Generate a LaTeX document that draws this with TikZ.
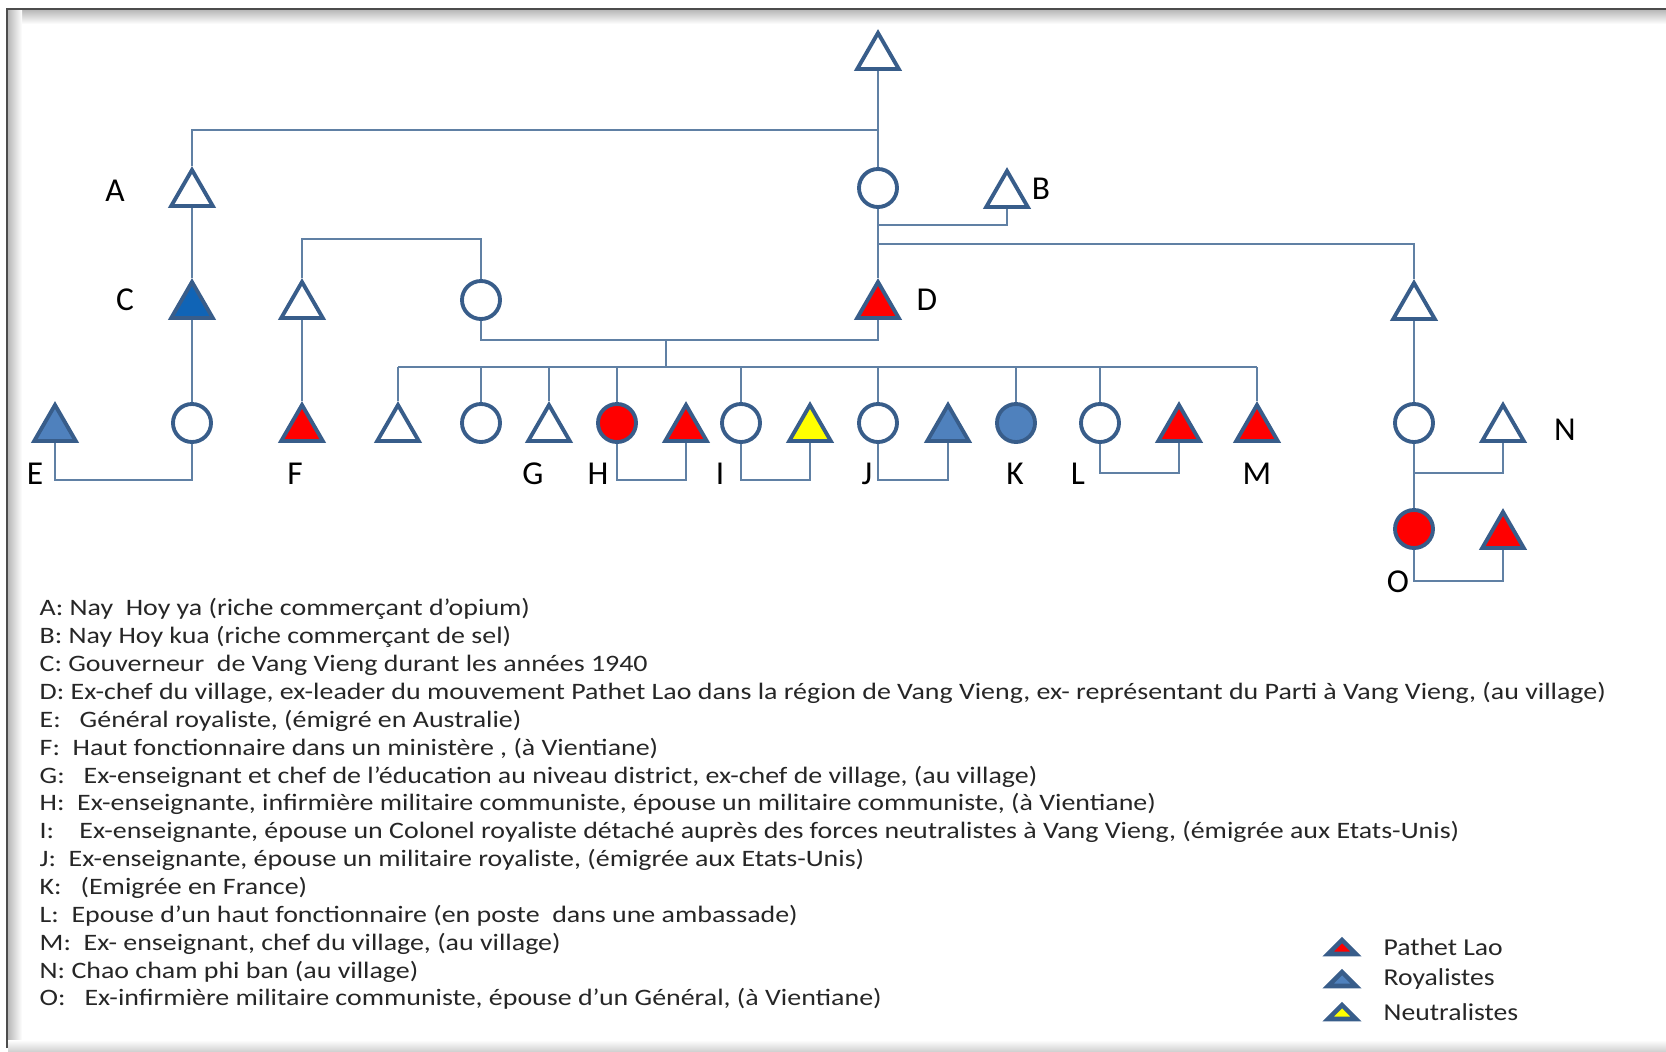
\documentclass[tikz,border=0pt]{standalone}
\usepackage{fontspec}
\setmainfont{Carlito}
\usepackage{tikz}
\usetikzlibrary{shapes.geometric, calc}
\definecolor{kinline}{RGB}{56, 93, 138}
\definecolor{kinlink}{RGB}{96, 128, 164}
\definecolor{plred}{RGB}{255, 0, 0}
\definecolor{royblue}{RGB}{79, 129, 189}
\definecolor{govblue}{RGB}{16, 100, 182}
\definecolor{neuyellow}{RGB}{255, 255, 0}

\begin{document}
\begin{tikzpicture}[x=0.01cm, y=-0.01cm,
    male/.style={regular polygon, regular polygon sides=3, minimum size=0.48cm,
      inner sep=0pt, draw=kinline, line width=1.1pt, fill=white},
    female/.style={circle, minimum size=0.38cm, inner sep=0pt,
      draw=kinline, line width=1.1pt, fill=white},
    link/.style={draw=kinlink, line width=0.6pt},
    tag/.style={font=\fontsize{9.5}{11}\selectfont, inner sep=0pt}]
  \useasboundingbox (0,0) rectangle (1666,1051);
  % Frame with shadow
  \shade[top color=gray!55, bottom color=white] (8,10) rectangle (1666,24);
  \shade[left color=gray!55, right color=white] (8,10) rectangle (22,1048);
  \shade[top color=white, bottom color=gray!35] (8,1040) rectangle (1666,1051);
  \draw[black!70, line width=0.7pt] (7,1048) -- (7,9) -- (1666,9);

  % Generation 0 and 1
  \node[male] (top) at (878,57) {};
  \node[male] (A) at (192,194) {};
  \node[female] (W) at (878,188) {};
  \node[male] (B) at (1007,195) {};
  % Generation 2
  \node[male, fill=govblue] (C) at (192,306) {};
  \node[male] (Q) at (302,306) {};
  \node[female] (R) at (481,300) {};
  \node[male, fill=plred] (D) at (878,306) {};
  \node[male] (P) at (1414,307) {};
  % Generation 3
  \node[male, fill=royblue] (E) at (55,429) {};
  \node[female] (Cd) at (192,423) {};
  \node[male, fill=plred] (F) at (302,429) {};
  \node[male] (s1) at (398,429) {};
  \node[female] (s2) at (481,423) {};
  \node[male] (G) at (549,429) {};
  \node[female, fill=plred] (H) at (617,423) {};
  \node[male, fill=plred] (Hs) at (686,429) {};
  \node[female] (I) at (741,423) {};
  \node[male, fill=neuyellow] (Is) at (810,429) {};
  \node[female] (J) at (878,423) {};
  \node[male, fill=royblue] (Js) at (948,429) {};
  \node[female, fill=royblue] (K) at (1016,423) {};
  \node[female] (L) at (1100,423) {};
  \node[male, fill=plred] (Ls) at (1179,429) {};
  \node[male, fill=plred] (M) at (1257,429) {};
  \node[female] (Pd) at (1414,423) {};
  \node[male] (N) at (1503,429) {};
  % Generation 4
  \node[female, fill=plred] (O) at (1414,529) {};
  \node[male, fill=plred] (Os) at (1503,536) {};

  % Links
  \coordinate (tw) at (878,130);
  \coordinate (wb) at (878,225);
  \coordinate (wp) at (878,244);
  \coordinate (qr) at (392,239);
  \coordinate (rd) at (666,340);
  \coordinate (sib) at (666,367);
  \coordinate (wedA) at (0,480);
  \coordinate (wedB) at (0,473);
  \coordinate (wedC) at (0,581);
  \draw[link] (top.south) -- (W.north);
  \draw[link] (A.north) |- (tw);
  \draw[link] (W.south) -- (D.north);
  \draw[link] (wb) -| (B.south);
  \draw[link] (wp) -| (P.north);
  \draw[link] (Q.north) |- (qr) -| (R.north);
  \draw[link] (R.south) |- (rd) -| (D.south);
  \draw[link] (rd) -- (sib);
  \draw[link] (s1.north |- sib) -- (M.north |- sib);
  \foreach \k in {s1,s2,G,H,I,J,K,L,M}
    \draw[link] (\k.north) -- (\k.north |- sib);
  \draw[link] (A.south) -- (C.north);
  \draw[link] (C.south) -- (Cd.north);
  \draw[link] (Q.south) -- (F.north);
  \draw[link] (P.south) -- (Pd.north);
  \draw[link] (Pd.south) -- (O.north);
  \foreach \h/\w/\lv in {E/Cd/wedA, H/Hs/wedA, I/Is/wedA, J/Js/wedA, L/Ls/wedB, O/Os/wedC}
    \draw[link] (\h.south) -- (\h.south |- \lv) -| (\w.south);
  \draw[link] (Pd.south |- wedB) -| (N.south);

  % Letters
  \node[tag] (lblA) at (115,191) {A};
  \node[tag] (lblB) at (1041,189) {B};
  \node[tag] (lblC) at (125,300) {C};
  \node[tag] (lblD) at (927,300) {D};
  \node[tag] (lblE) at (35,474) {E};
  \node[tag] (lblF) at (295,474) {F};
  \node[tag] (lblG) at (533,474) {G};
  \node[tag] (lblH) at (598,474) {H};
  \node[tag] (lblI) at (720,474) {I};
  \node[tag] (lblJ) at (867,474) {J};
  \node[tag] (lblK) at (1015,474) {K};
  \node[tag] (lblL) at (1078,474) {L};
  \node[tag] (lblM) at (1257,474) {M};
  \node[tag] (lblN) at (1565,430) {N};
  \node[tag] (lblO) at (1398,582) {O};

  % Who is who
  \node[anchor=north west, inner sep=0pt, align=left, text=black!85,
    font=\fontsize{6.7}{7.92}\selectfont\addfontfeatures{FakeStretch=1.185}] (notes) at (39,598) {%
    A: Nay~~Hoy ya (riche commerçant d’opium)\\
    B: Nay Hoy kua (riche commerçant de sel)\\
    C: Gouverneur~~de Vang Vieng durant les années 1940\\
    D: Ex-chef du village, ex-leader du mouvement Pathet Lao dans la région de Vang Vieng, ex- représentant du Parti à Vang Vieng, (au village)\\
    E:~~~Général royaliste, (émigré en Australie)\\
    F:~~Haut fonctionnaire dans un ministère , (à Vientiane)\\
    G:~~~Ex-enseignant et chef de l’éducation au niveau district, ex-chef de village, (au village)\\
    H:~~Ex-enseignante, infirmière militaire communiste, épouse un militaire communiste, (à Vientiane)\\
    I:~~~~Ex-enseignante, épouse un Colonel royaliste détaché auprès des forces neutralistes à Vang Vieng, (émigrée aux Etats-Unis)\\
    J:~~Ex-enseignante, épouse un militaire royaliste, (émigrée aux Etats-Unis)\\
    K:~~~(Emigrée en France)\\
    L:~~Epouse d’un haut fonctionnaire (en poste~~dans une ambassade)\\
    M:~~Ex- enseignant, chef du village, (au village)\\
    N: Chao cham phi ban (au village)\\
    O:~~~Ex-infirmière militaire communiste, épouse d’un Général, (à Vientiane)};

  % Key
  \foreach \y/\c/\t [count=\i] in {947/plred/Pathet Lao, 979/royblue/Royalistes, 1012/neuyellow/Neutralistes}{
    \filldraw[fill=\c, draw=kinline, line width=1.3pt] (1328,\y+7) -- (1342,\y-7) -- (1356,\y+7) -- cycle;
    \node[anchor=west, inner sep=0pt, text=black!85,
      font=\fontsize{6.9}{8}\selectfont\addfontfeatures{FakeStretch=1.14}] (key\i) at (1383,\y) {\t};
  }
\end{tikzpicture}
\end{document}
